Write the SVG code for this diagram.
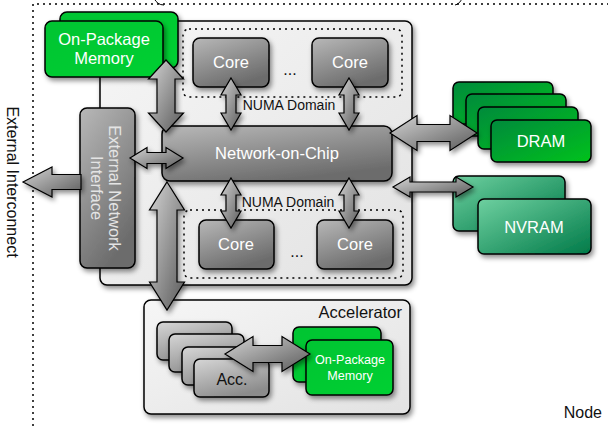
<svg xmlns="http://www.w3.org/2000/svg" width="608" height="426" viewBox="0 0 608 426">
<defs>
<filter id="sh" x="-20%" y="-20%" width="150%" height="150%">
<feDropShadow dx="2" dy="3" stdDeviation="2.5" flood-color="#000" flood-opacity="0.45"/>
</filter>
<linearGradient id="gGray" x1="0" y1="0" x2="0.5" y2="1">
<stop offset="0" stop-color="#b8b8b8"/><stop offset="1" stop-color="#6c6c6c"/>
</linearGradient>
<linearGradient id="gLight" x1="0" y1="0" x2="0.5" y2="1">
<stop offset="0" stop-color="#d6d6d6"/><stop offset="1" stop-color="#8c8c8c"/>
</linearGradient>
<linearGradient id="gChip" x1="0" y1="0" x2="1" y2="1">
<stop offset="0" stop-color="#f6f6f6"/><stop offset="1" stop-color="#e2e2e2"/>
</linearGradient>
<linearGradient id="gArrow" x1="0" y1="0" x2="1" y2="1">
<stop offset="0" stop-color="#d4d4d4"/><stop offset="1" stop-color="#5a5a5a"/>
</linearGradient>
<linearGradient id="gMem" x1="0" y1="0" x2="1" y2="1">
<stop offset="0" stop-color="#00c432"/><stop offset="1" stop-color="#00d030"/>
</linearGradient>
<linearGradient id="gDram" x1="0" y1="0" x2="1" y2="1">
<stop offset="0" stop-color="#008a3c"/><stop offset="1" stop-color="#00c21c"/>
</linearGradient>
<linearGradient id="gNv" x1="0" y1="0" x2="1" y2="1">
<stop offset="0" stop-color="#6ed0a0"/><stop offset="1" stop-color="#007a48"/>
</linearGradient>
</defs>
<style>
text{font-family:"Liberation Sans",Arial,sans-serif}
.box{stroke:#000;stroke-width:1.5;filter:url(#sh)}
.gray{fill:url(#gGray)}
.light{fill:url(#gLight)}
.mem{fill:url(#gMem)}
.dram{fill:url(#gDram)}
.nv{fill:url(#gNv)}
.dot{fill:none;stroke:#000;stroke-width:1.5;stroke-dasharray:2 4}
.arr{fill:url(#gArrow);stroke:#000;stroke-width:1.2;stroke-linejoin:miter;filter:url(#sh)}
.wt{fill:#fff;text-anchor:middle}
.bk{fill:#111;text-anchor:middle}
</style>

<path class="dot" d="M33,426 V4 H608"/>
<path d="M154,-2 Q157,5 164,5 M455,5 Q460,4 462,-2" fill="none" stroke="#000" stroke-width="1"/>
<text font-size="16" class="bk" transform="translate(7 182) rotate(90)">External Interconnect</text>

<g id="chip">
<rect x="100" y="21" width="312" height="264" rx="7" fill="url(#gChip)" class="box"/>
</g>

<g id="numa-top">
<rect class="dot" x="183" y="29" width="219" height="68" rx="6"/>
<text x="289" y="110" font-size="14" class="bk">NUMA Domain</text>
</g>
<g id="core1">
<rect class="box gray" x="193" y="38" width="76" height="49" rx="7"/>
<text x="231" y="68" font-size="16.5" class="wt">Core</text>
</g>
<g id="core2">
<rect class="box gray" x="312" y="38" width="76" height="49" rx="7"/>
<text x="350" y="68" font-size="16.5" class="wt">Core</text>
</g>
<text x="290" y="75" font-size="16" class="bk">...</text>

<g id="numa-bottom">
<rect class="dot" x="184" y="210" width="219" height="68" rx="6"/>
<text x="288" y="207" font-size="14" class="bk">NUMA Domain</text>
</g>
<g id="core3">
<rect class="box gray" x="199" y="220" width="75" height="49" rx="7"/>
<text x="236" y="250" font-size="16.5" class="wt">Core</text>
</g>
<g id="core4">
<rect class="box gray" x="317" y="220" width="76" height="49" rx="7"/>
<text x="355" y="250" font-size="16.5" class="wt">Core</text>
</g>
<text x="297" y="257" font-size="16" class="bk">...</text>

<g id="noc">
<rect class="box gray" x="162" y="126" width="230" height="55" rx="8"/>
<text x="277" y="159" font-size="16.5" class="wt">Network-on-Chip</text>
</g>

<g id="eni">
<rect class="box gray" x="80" y="108" width="55" height="160" rx="7"/>
<text font-size="16.5" fill="#e4e4e4" text-anchor="middle" transform="translate(109 188) rotate(90)">
<tspan x="0" y="0">External Network</tspan><tspan x="0" y="18">Interface</tspan></text>
</g>

<g id="onpkg-mem">
<rect class="box mem" x="60" y="12" width="118" height="56" rx="7"/>
<rect class="box mem" x="45" y="21" width="118" height="56" rx="7"/>
<text font-size="16.5" class="wt"><tspan x="104" y="45">On-Package</tspan><tspan x="104" y="64">Memory</tspan></text>
</g>

<g id="dram">
<rect class="box dram" x="453" y="82" width="100" height="42" rx="6"/>
<rect class="box dram" x="466" y="94" width="100" height="42" rx="6"/>
<rect class="box dram" x="478" y="107" width="100" height="42" rx="6"/>
<rect class="box dram" x="491" y="120" width="100" height="42" rx="6"/>
<text x="541" y="147" font-size="16.5" class="wt">DRAM</text>
</g>

<g id="nvram">
<rect class="box nv" x="453" y="176" width="112" height="55" rx="6"/>
<rect class="box nv" x="478" y="199" width="113" height="55" rx="6"/>
<text x="534" y="233" font-size="16.5" class="wt">NVRAM</text>
</g>

<g id="accelerator">
<rect x="144" y="300" width="266" height="114" rx="7" fill="url(#gChip)" class="box"/>
<text x="402" y="318" font-size="16.5" fill="#111" text-anchor="end">Accelerator</text>
</g>
<g id="acc">
<rect class="box light" x="157" y="322" width="75" height="38" rx="6"/>
<rect class="box light" x="169" y="334" width="75" height="38" rx="6"/>
<rect class="box light" x="182" y="347" width="75" height="38" rx="6"/>
<rect class="box light" x="194" y="359" width="75" height="38" rx="6"/>
<text x="232" y="385" font-size="16" class="bk">Acc.</text>
</g>
<g id="acc-mem">
<rect class="box mem" x="293" y="327" width="88" height="55" rx="6"/>
<rect class="box mem" x="306" y="340" width="87" height="55" rx="6"/>
<text font-size="12.6" class="wt"><tspan x="350" y="364">On-Package</tspan><tspan x="350" y="380">Memory</tspan></text>
</g>

<text x="602" y="418" font-size="16" fill="#111" text-anchor="end">Node</text>

<g id="connectors">
<polygon class="arr" points="166,60 183.5,79 175,79 175,113 183.5,113 166,132 148.5,113 157,113 157,79 148.5,79"/>
<polygon class="arr" points="231,78 241,95 236,95 236,113 241,113 231,130 221,113 226,113 226,95 221,95"/>
<polygon class="arr" points="349,78 359,95 354,95 354,113 359,113 349,130 339,113 344,113 344,95 339,95"/>
<polygon class="arr" points="231,178 241,195 236,195 236,211 241,211 231,228 221,211 226,211 226,195 221,195"/>
<polygon class="arr" points="349,178 359,195 354,195 354,211 359,211 349,228 339,211 344,211 344,195 339,195"/>
<polygon class="arr" points="167,182 184.5,210 177,210 177,282 184.5,282 167,310 149.5,282 157,282 157,210 149.5,210"/>
<polygon class="arr" points="130,158 147,147.5 147,152.5 166,152.5 166,147.5 183,158 166,168.5 166,163.5 147,163.5 147,168.5"/>
<polygon class="arr" points="23,182 52,167 52,174.5 81,174.5 81,189.5 52,189.5 52,197"/>
<polygon class="arr" points="390,133 417,115.5 417,124.5 450,124.5 450,115.5 477,133 450,150.5 450,141.5 417,141.5 417,150.5"/>
<polygon class="arr" points="393,187 410,177 410,182 456,182 456,177 473,187 456,197 456,192 410,192 410,197"/>
<polygon class="arr" points="225,354 253,336.5 253,345.5 282,345.5 282,336.5 310,354 282,371.5 282,362.5 253,362.5 253,371.5"/>
</g>
</svg>
